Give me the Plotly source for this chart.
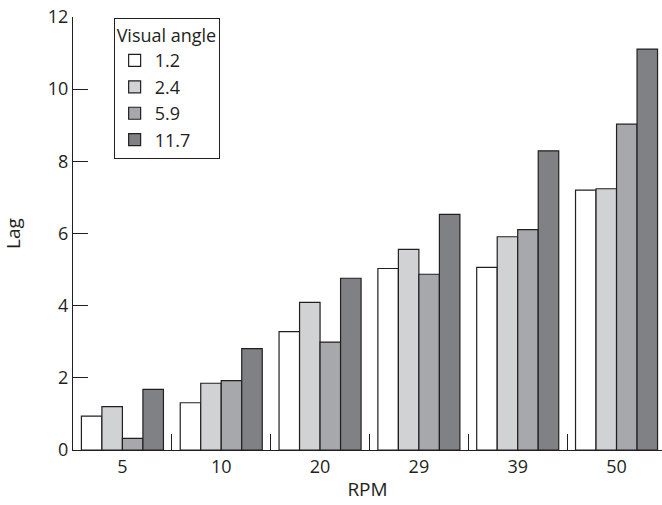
import plotly.graph_objects as go

categories = ["5", "10", "20", "29", "39", "50"]
series_names = ["1.2", "2.4", "5.9", "11.7"]
lag_12 = [0.94, 1.31, 3.28, 5.03, 5.06, 7.20]
lag_24 = [1.20, 1.85, 4.09, 5.56, 5.91, 7.24]
lag_59 = [0.32, 1.92, 2.99, 4.87, 6.11, 9.03]
lag_117 = [1.68, 2.81, 4.76, 6.53, 8.29, 11.11]
y_ticks = [0, 2, 4, 6, 8, 10, 12]

values = [lag_12, lag_24, lag_59, lag_117]
colors = ["#ffffff", "#d1d2d4", "#a7a8ab", "#808185"]
ink = "#231f20"
font_family = "Open Sans"

fig = go.Figure()
for name, vals, col in zip(series_names, values, colors):
    fig.add_trace(go.Bar(
        x=categories, y=vals, name=name,
        marker=dict(color=col, line=dict(color=ink, width=1.2)),
    ))

fig.update_layout(
    width=662, height=505,
    margin=dict(l=73, r=0, t=17, b=55),
    paper_bgcolor="white", plot_bgcolor="white",
    barmode="group", bargap=0.17, bargroupgap=0,
    font=dict(family=font_family, size=18, color=ink),
    showlegend=True,
    legend=dict(
        title=dict(text="Visual angle", font=dict(size=18)),
        x=0.069, y=0.998, xanchor="left", yanchor="top",
        bordercolor=ink, borderwidth=1, bgcolor="white",
        font=dict(size=18), tracegroupgap=0,
        itemwidth=30,
    ),
    xaxis=dict(
        type="category", range=[-0.5, 5.46],
        showline=True, linecolor=ink, linewidth=1,
        ticks="inside", tickson="boundaries", ticklen=16, tickcolor=ink, tickwidth=1,
        showgrid=False, zeroline=False,
        title=dict(text="RPM", font=dict(size=19), standoff=6),
        tickfont=dict(size=18),
    ),
    yaxis=dict(
        range=[0, 12], tickvals=y_ticks,
        showline=True, linecolor=ink, linewidth=1,
        ticks="inside", ticklen=15, tickcolor=ink, tickwidth=1,
        showgrid=False, zeroline=False,
        title=dict(text="Lag", font=dict(size=19), standoff=22),
        tickfont=dict(size=18),
    ),
)

fig.write_html("out.html")
